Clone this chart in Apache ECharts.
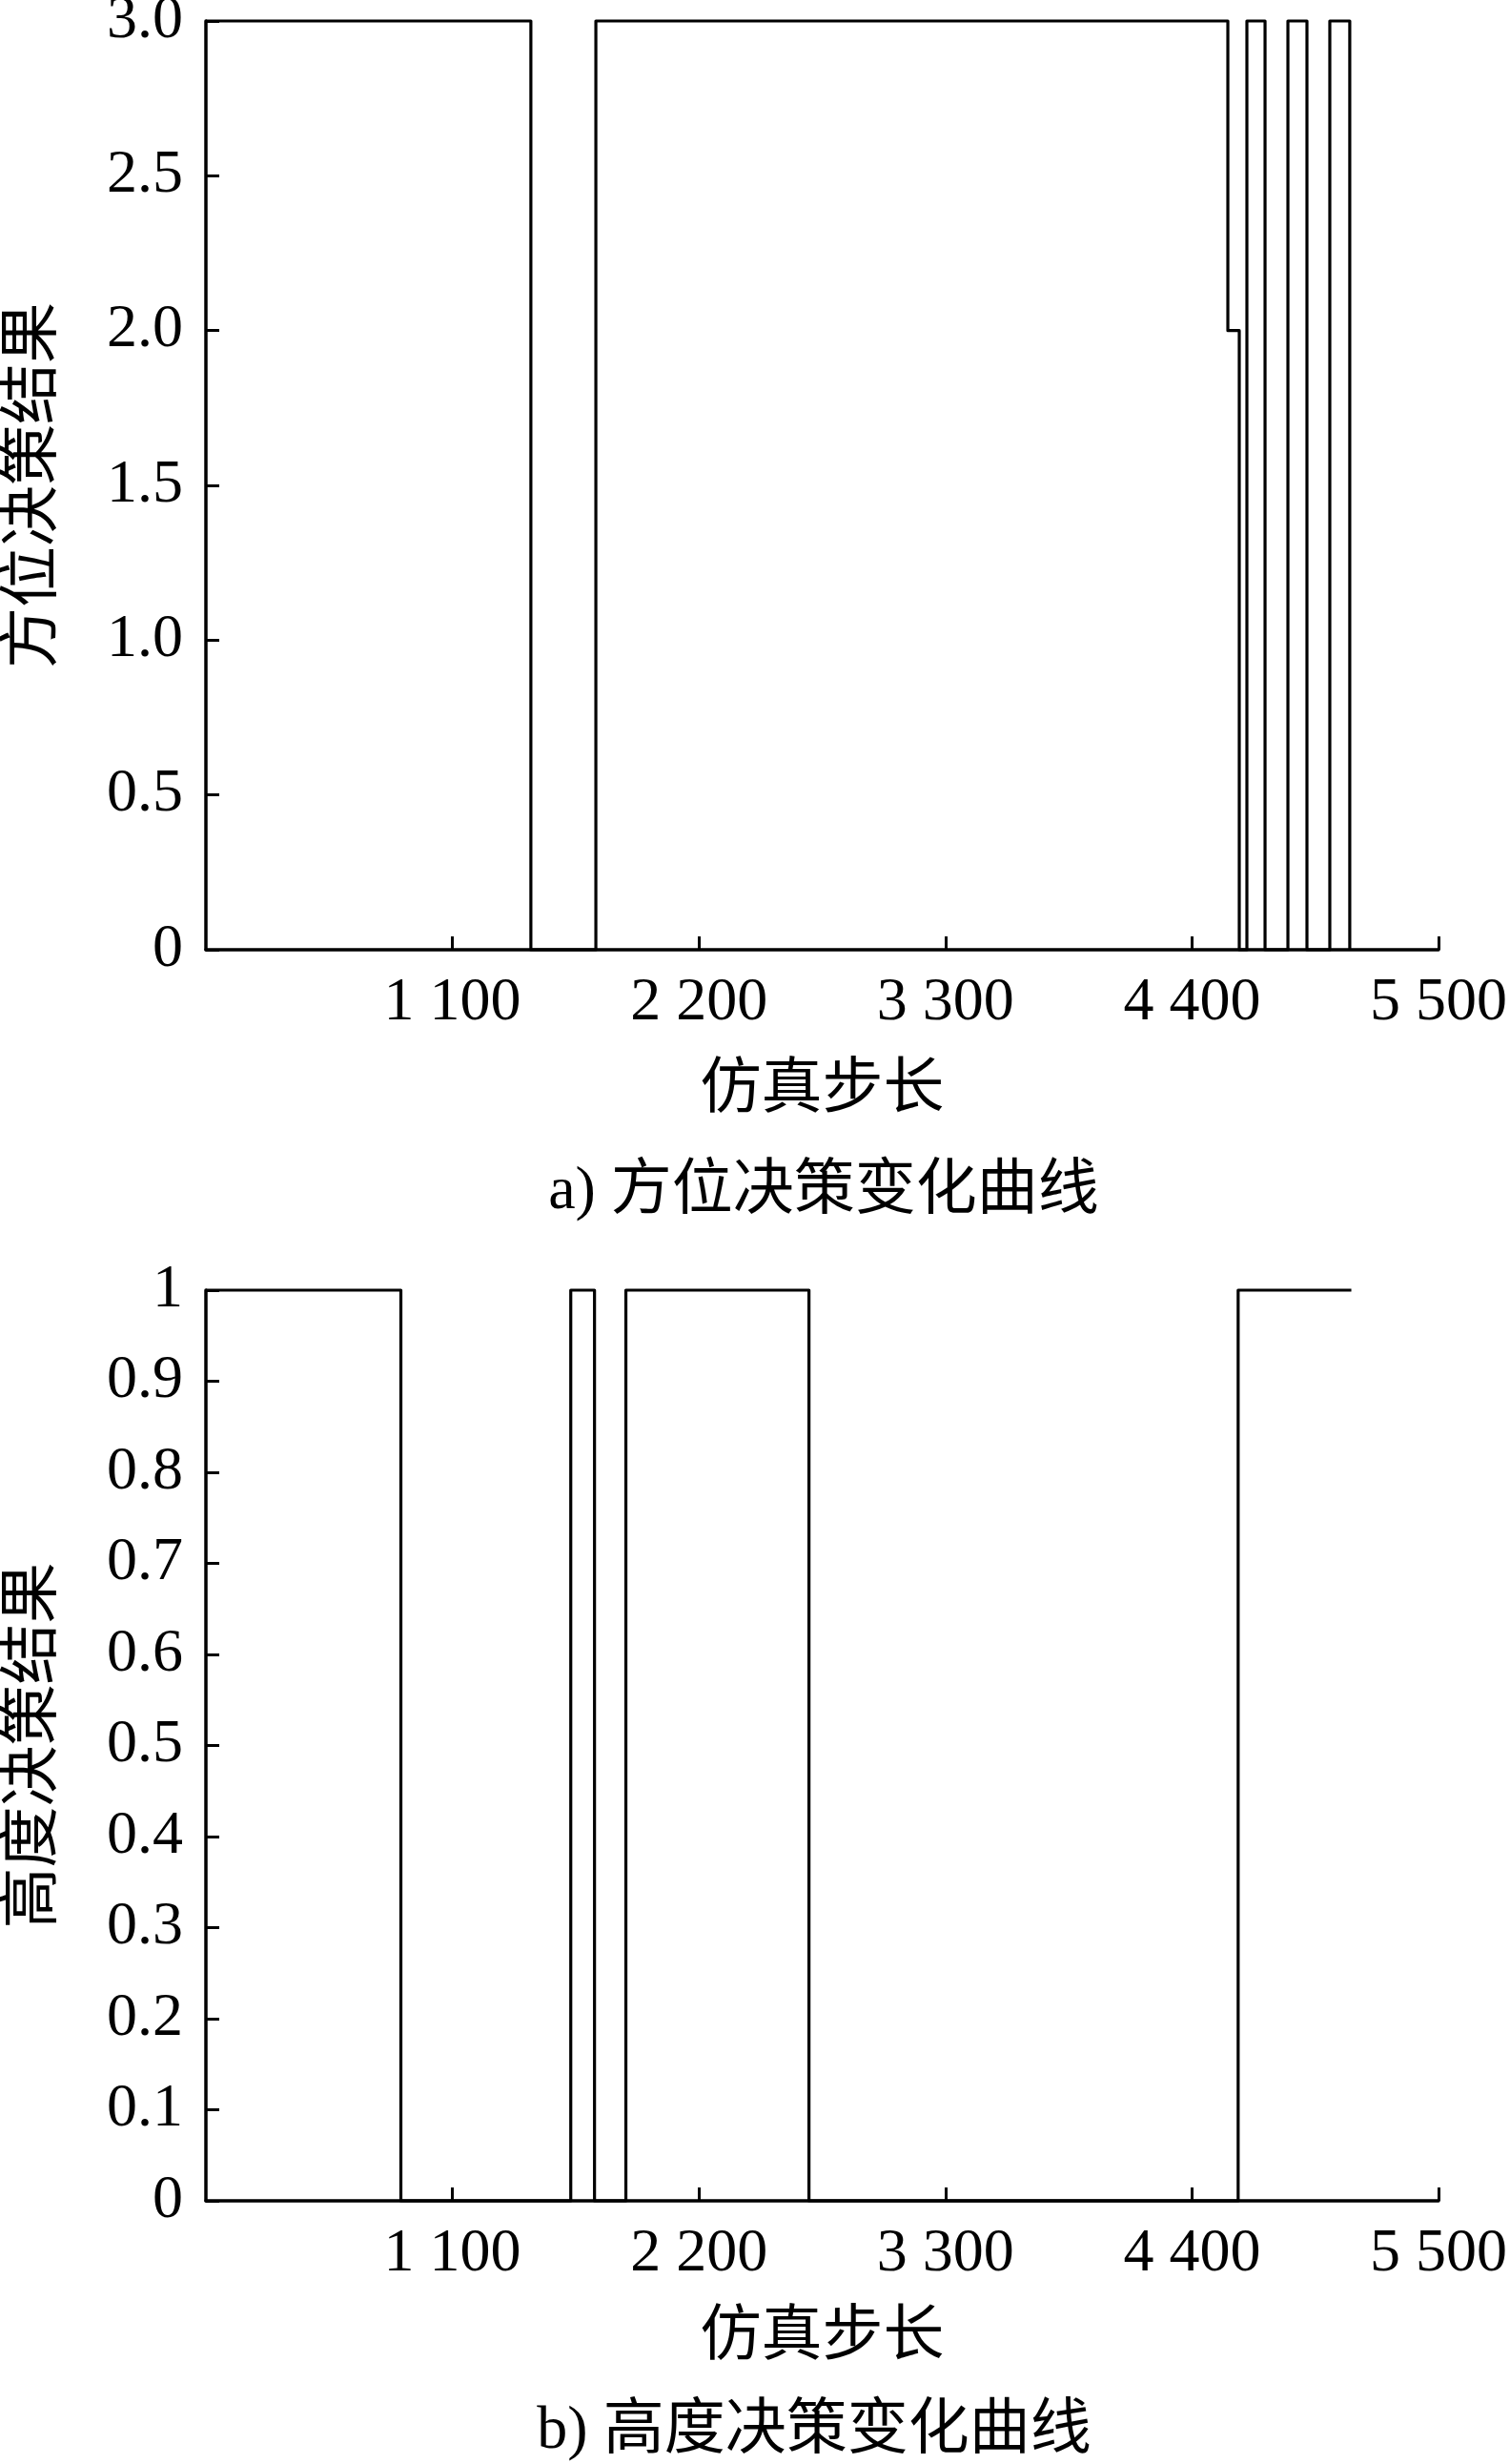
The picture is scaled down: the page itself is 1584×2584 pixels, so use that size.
<!DOCTYPE html>
<html><head><meta charset="utf-8">
<script src="https://cdn.jsdelivr.net/npm/echarts@6/dist/echarts.min.js"></script>
<style>html,body{margin:0;padding:0;background:#fff}#c{width:1584px;height:2584px}</style>
</head><body><div id="c"></div>
<script>
// Step change points (simulation step where the decision value changes) and the new value
const azimuthSteps  = [0, 1450, 1740, 4560, 4611, 4645, 4726, 4828, 4913, 5015, 5104];
const azimuthValues = [3, 0,    3,    2,    0,    3,    0,    3,    0,    3,    0];
const altitudeSteps  = [0, 870, 1628, 1734, 1874, 2691, 4606, 5111];
const altitudeValues = [1, 0,   1,    0,    1,    0,    1,    1];

const xMin = 0, xMax = 5500, xInterval = 1100;
const azimuthAxis = {min: 0, max: 3, interval: 0.5};
const altitudeAxis = {min: 0, max: 1, interval: 0.1};

const xName = '仿真步长';
const azimuthName = '方位决策结果';
const altitudeName = '高度决策结果';
const captionA = 'a) 方位决策变化曲线';
const captionB = 'b) 高度决策变化曲线';

const serif = '"Liberation Serif", "Times New Roman", "Noto Sans CJK SC"';
const FS = 64;

function fmtX(v){ return v === 0 ? '' : String(v).replace(/\B(?=(\d{3})+(?!\d))/g, ' '); }
function fmtYa(v){ return v === 0 ? '0' : v.toFixed(1); }
function fmtYb(v){ return v === 0 ? '0' : (v === 1 ? '1' : v.toFixed(1)); }

function xAxisCfg(gi, gap){
  return {
    type: 'value', gridIndex: gi, min: xMin, max: xMax, interval: xInterval,
    name: xName, nameLocation: 'middle', nameGap: gap,
    nameTextStyle: {fontFamily: serif, fontSize: FS, color: '#000'},
    axisLine: {show: true, onZero: false, lineStyle: {color: '#000', width: 3.5}},
    axisTick: {show: true, inside: true, length: 14, lineStyle: {color: '#000', width: 3}},
    axisLabel: {formatter: fmtX, fontFamily: serif, fontSize: FS, color: '#000', margin: 24, showMinLabel: false},
    splitLine: {show: false}
  };
}
function yAxisCfg(gi, ax, name, fmt){
  return {
    type: 'value', gridIndex: gi, min: ax.min, max: ax.max, interval: ax.interval,
    name: name, nameLocation: 'middle', nameGap: 148, nameRotate: 90,
    nameTextStyle: {fontFamily: serif, fontSize: FS, color: '#000'},
    axisLine: {show: true, lineStyle: {color: '#000', width: 3.5}},
    axisTick: {show: true, inside: true, length: 14, lineStyle: {color: '#000', width: 3}},
    axisLabel: {formatter: fmt, fontFamily: serif, fontSize: FS, color: '#000', margin: 24},
    splitLine: {show: false}
  };
}
function zipData(xs, ys){ return xs.map((x, i) => [x, ys[i]]); }

const chart = echarts.init(document.getElementById('c'), null, {renderer: 'canvas'});
chart.setOption({
  backgroundColor: '#fff',
  animation: false,
  grid: [
    {left: 216, width: 1293, top: 22, height: 974, containLabel: false, outerBoundsMode: 'none'},
    {left: 216, width: 1293, top: 1353, height: 955, containLabel: false, outerBoundsMode: 'none'}
  ],
  xAxis: [xAxisCfg(0, 116), xAxisCfg(1, 112)],
  yAxis: [yAxisCfg(0, azimuthAxis, azimuthName, fmtYa), yAxisCfg(1, altitudeAxis, altitudeName, fmtYb)],
  series: [
    {type: 'line', xAxisIndex: 0, yAxisIndex: 0, step: 'end', showSymbol: false, clip: false,
     data: zipData(azimuthSteps, azimuthValues),
     lineStyle: {color: '#000', width: 3.2, join: 'round'}},
    {type: 'line', xAxisIndex: 1, yAxisIndex: 1, step: 'end', showSymbol: false, clip: false,
     data: zipData(altitudeSteps, altitudeValues),
     lineStyle: {color: '#000', width: 3.2, join: 'round'}}
  ],
  graphic: [
    {type: 'text', x: 864, y: 1250, style: {text: captionA, font: FS + 'px ' + serif, fill: '#000', textAlign: 'center', textVerticalAlign: 'middle'}},
    {type: 'text', x: 854, y: 2550, style: {text: captionB, font: FS + 'px ' + serif, fill: '#000', textAlign: 'center', textVerticalAlign: 'middle'}}
  ]
});
</script>
</body></html>
